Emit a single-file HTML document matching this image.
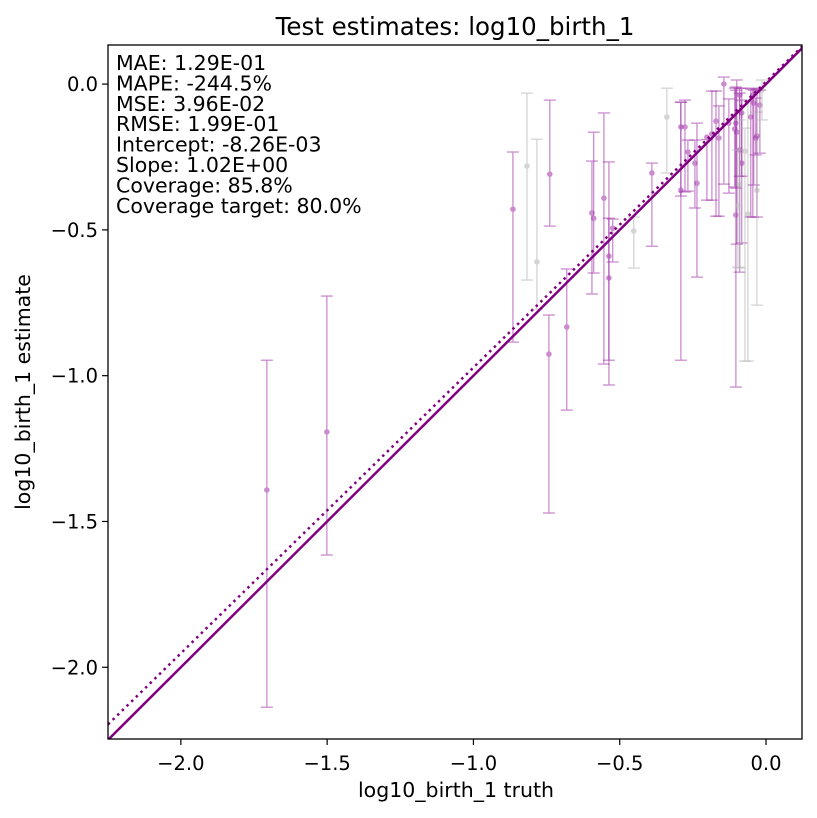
<!DOCTYPE html>
<html><head><meta charset="utf-8"><style>
body{margin:0;background:#fff}
svg{display:block;font-family:"DejaVu Sans","Liberation Sans",sans-serif}
</style></head><body>
<svg id="c" width="817" height="818"></svg>
<script>
const xs=[-0.865,-0.817,-0.783,-0.739,-0.742,-0.681,-0.589,-0.595,-0.554,-0.537,-0.537,-0.524,-0.452,-0.390,-0.339,-0.291,-0.291,-0.277,-0.267,-0.243,-0.236,-0.202,-0.185,-0.171,-0.161,-0.144,-0.127,-0.107,-0.103,-0.100,-0.090,-0.083,-0.103,-0.090,-0.083,-0.096,-0.090,-0.072,-0.062,-0.052,-0.042,-0.031,-0.045,-0.031,-0.021,-0.035,-0.014,-1.706,-1.501];
const ys=[-0.429,-0.281,-0.610,-0.309,-0.926,-0.833,-0.460,-0.442,-0.391,-0.590,-0.665,-0.494,-0.504,-0.305,-0.113,-0.147,-0.364,-0.147,-0.233,-0.271,-0.340,-0.182,-0.171,-0.127,-0.185,0.000,-0.134,-0.154,-0.134,-0.165,-0.038,-0.099,-0.449,-0.226,-0.271,-0.418,-0.346,-0.230,-0.446,-0.113,-0.065,-0.178,-0.038,-0.364,-0.072,-0.185,-0.021,-1.392,-1.193];
const his=[-0.233,-0.031,-0.189,-0.055,-0.792,-0.634,-0.165,-0.264,-0.099,-0.267,-0.460,-0.463,-0.456,-0.271,-0.014,-0.062,-0.062,-0.055,-0.192,-0.192,-0.134,-0.190,-0.024,-0.024,-0.075,0.024,-0.051,-0.014,-0.021,0.014,-0.014,-0.014,-0.010,-0.031,-0.055,-0.226,-0.123,-0.151,-0.055,-0.017,-0.021,-0.017,-0.014,-0.096,-0.021,-0.048,0.014,-0.947,-0.727];
const los=[-0.885,-0.672,-0.772,-0.487,-1.471,-1.118,-0.648,-0.720,-0.960,-1.032,-0.947,-0.610,-0.631,-0.556,-0.305,-0.384,-0.947,-0.370,-0.367,-0.425,-0.662,-0.398,-0.398,-0.453,-0.453,-0.343,-0.374,-0.353,-0.357,-0.549,-0.316,-0.316,-1.039,-0.645,-0.545,-0.628,-0.631,-0.950,-0.950,-0.456,-0.346,-0.456,-0.456,-0.758,-0.237,-0.243,-0.123,-2.137,-1.615];
const inCov=[1,0,0,1,1,1,1,1,1,1,1,1,0,1,0,1,1,1,1,1,1,1,1,1,1,1,1,1,1,1,1,1,1,1,1,0,0,0,0,1,1,1,1,0,1,1,0,1,1];
const xTicks=[-2.0,-1.5,-1.0,-0.5,0.0];
const yTicks=[0.0,-0.5,-1.0,-1.5,-2.0];
const stats=["MAE: 1.29E-01","MAPE: -244.5%","MSE: 3.96E-02","RMSE: 1.99E-01","Intercept: -8.26E-03","Slope: 1.02E+00","Coverage: 85.8%","Coverage target: 80.0%"];
const L=108,R=802,T=45,B=739,x0=-2.249,x1=0.123,y0=-2.246,y1=0.134;
const sx=v=>L+(v-x0)/(x1-x0)*(R-L), sy=v=>B-(v-y0)/(y1-y0)*(B-T);
const svg=document.getElementById('c'),NS='http://www.w3.org/2000/svg';
function mk(t,a,p){const e=document.createElementNS(NS,t);for(const k in a)e.setAttribute(k,a[k]);(p||svg).appendChild(e);return e;}
mk('defs',{}).innerHTML='<clipPath id="cp"><rect x="108" y="45" width="694" height="694"/></clipPath>';
const g=mk('g',{'clip-path':'url(#cp)'});


for(let i=0;i<xs.length;i++){
 const col=inCov[i]?'#a030a8':'#b8b8b8',op=inCov[i]?0.55:0.6;
 const eg=mk('g',{opacity:op},g);
 
 
 const X=sx(xs[i]);
 mk('line',{x1:X,x2:X,y1:sy(his[i]),y2:sy(los[i]),stroke:col,'stroke-width':1.3},eg);
 mk('line',{x1:X-6,x2:X+6,y1:sy(his[i]),y2:sy(his[i]),stroke:col,'stroke-width':1.3},eg);
 mk('line',{x1:X-6,x2:X+6,y1:sy(los[i]),y2:sy(los[i]),stroke:col,'stroke-width':1.3},eg);
 const d=mk('circle',{cx:X,cy:sy(ys[i]),r:2.8,fill:col},eg);
 
 
}
const id=mk('line',{x1:sx(x0),y1:sy(x0),x2:sx(x1),y2:sy(x1),stroke:'#800080','stroke-width':2.5},g);


const fa=0.008,fb=0.98;
const fl=mk('line',{x1:sx(x0),y1:sy(fa+fb*x0),x2:sx(x1),y2:sy(fa+fb*x1),stroke:'#800080','stroke-width':2.5,'stroke-dasharray':'2.5,4'},g);


const fr=mk('rect',{x:L,y:T,width:R-L,height:B-T,fill:'none',stroke:'#000','stroke-width':1.3});


xTicks.forEach(v=>{const X=sx(v);mk('line',{x1:X,x2:X,y1:B,y2:B+6,stroke:'#000','stroke-width':1.2});
 const t=mk('text',{x:X,y:B+31,'text-anchor':'middle','font-size':19.5});t.textContent=v.toFixed(1).replace('-','−');
 
 });
yTicks.forEach(v=>{const Y=sy(v);mk('line',{x1:L-6,x2:L,y1:Y,y2:Y,stroke:'#000','stroke-width':1.2});
 const t=mk('text',{x:L-10,y:Y+7,'text-anchor':'end','font-size':19.5});t.textContent=v.toFixed(1).replace('-','−');
 
 });
stats.forEach((s,i)=>{const t=mk('text',{x:116,y:70+i*20.4,'font-size':20.5});t.textContent=s;
 
 });
let t=mk('text',{x:455,y:35,'text-anchor':'middle','font-size':24.5});t.textContent='Test estimates: log10_birth_1';


t=mk('text',{x:456,y:797,'text-anchor':'middle','font-size':20.5});t.textContent='log10_birth_1 truth';


t=mk('text',{x:0,y:0,'text-anchor':'middle','font-size':20.5,transform:'translate(30,392) rotate(-90)'});t.textContent='log10_birth_1 estimate';


</script>
</body></html>
